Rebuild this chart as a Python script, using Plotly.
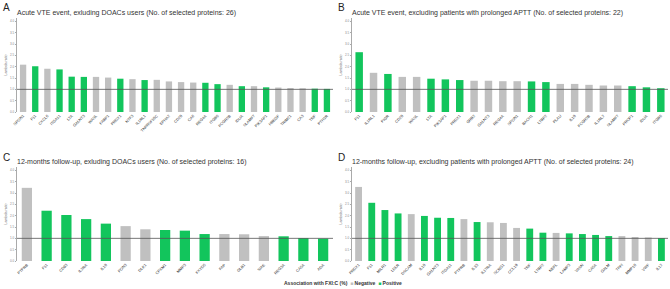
import plotly.graph_objects as go

# ---------------- data ----------------
a_proteins = ["SPON1", "F11", "CXCL6", "ITGA11", "LTA", "GALNT3", "WASL", "FABP1", "PRDX1", "NTF3",
              "IL1RL1", "TNFRSF10C", "EPHA2", "CD28", "CA6", "REG4A", "ITGB6", "FCGR2B", "IDUA", "SLAMF7",
              "PIK3AP1", "HBEGF", "TRIM21", "CA3", "TNF", "PTH1R"]
a_values = [2.09, 2.02, 1.91, 1.88, 1.56, 1.55, 1.55, 1.52, 1.47, 1.45,
            1.41, 1.42, 1.35, 1.32, 1.30, 1.29, 1.23, 1.20, 1.14, 1.14,
            1.09, 1.08, 1.06, 1.05, 1.03, 1.02]
a_assoc = ["Negative", "Positive", "Negative", "Positive", "Positive", "Positive", "Negative", "Negative", "Positive", "Negative",
           "Positive", "Negative", "Negative", "Negative", "Negative", "Positive", "Positive", "Negative", "Positive", "Negative",
           "Positive", "Negative", "Negative", "Negative", "Positive", "Positive"]

b_proteins = ["F11", "IL1RL1", "PIGR", "CD28", "WASL", "LTA", "PIK3AP1", "PRDX1", "GRB2", "GALNT3",
              "REG4A", "SPON1", "BACH1", "LTBP2", "PLAU", "IL18", "FCGR2B", "IL1RL2", "SLAMF7", "PROP1",
              "IDUA", "ITGB6"]
b_values = [2.64, 1.73, 1.68, 1.55, 1.55, 1.47, 1.44, 1.41, 1.38, 1.38,
            1.36, 1.36, 1.35, 1.32, 1.24, 1.24, 1.20, 1.17, 1.17, 1.14,
            1.09, 1.05]
b_assoc = ["Positive", "Negative", "Positive", "Negative", "Negative", "Positive", "Positive", "Positive", "Negative", "Negative",
           "Negative", "Negative", "Positive", "Positive", "Negative", "Negative", "Negative", "Negative", "Negative", "Positive",
           "Positive", "Positive"]

c_proteins = ["PTPRB", "F11", "CD93", "IL2RA", "IL18", "PON3", "DLK1", "CPXM1", "MMP3", "FXYD5",
              "FAP", "GLB1", "SIAE", "REG3A", "CA5A", "ADA"]
c_values = [3.23, 2.22, 2.03, 1.85, 1.65, 1.54, 1.40, 1.37, 1.34, 1.19,
            1.19, 1.18, 1.10, 1.09, 1.01, 0.99]
c_assoc = ["Negative", "Positive", "Positive", "Positive", "Positive", "Negative", "Negative", "Positive", "Positive", "Positive",
           "Negative", "Negative", "Negative", "Positive", "Positive", "Positive"]

d_proteins = ["PRDX1", "F11", "MILR1", "LDLR", "DSCAM", "IL18", "GALNT3", "ITGA11", "PTPRB", "IL33",
              "IL17RA", "SCRG1", "CCL19", "TNF", "LTBP2", "NEFL", "LAMP3", "VASN", "CA5A", "GALM",
              "TFPI", "MMP10", "VWF", "IL12"]
d_values = [3.27, 2.57, 2.25, 2.10, 2.07, 1.99, 1.91, 1.90, 1.85, 1.72,
            1.71, 1.68, 1.46, 1.43, 1.25, 1.24, 1.22, 1.19, 1.15, 1.10,
            1.10, 1.06, 1.04, 1.01]
d_assoc = ["Negative", "Positive", "Positive", "Positive", "Negative", "Positive", "Positive", "Positive", "Negative", "Positive",
           "Negative", "Negative", "Negative", "Positive", "Positive", "Negative", "Positive", "Positive", "Positive", "Positive",
           "Negative", "Negative", "Negative", "Positive"]

panel_letters = ["A", "B", "C", "D"]
panel_titles = [
    "Acute VTE event, exluding DOACs users (No. of selected proteins: 26)",
    "Acute VTE event, excluding patients with prolonged APTT (No. of selected proteins: 22)",
    "12-months follow-up, exluding DOACs users (No. of selected proteins: 16)",
    "12-months follow-up, excluding patients with prolonged APTT (No. of selected proteins: 24)",
]
y_ticks = [0.0, 0.5, 1.0, 1.5, 2.0, 2.5, 3.0, 3.5, 4.0]
y_title = "Lambda ratio"
legend_title = "Association with FXI:C (%)"
legend_names = ["Negative", "Positive"]

# ---------------- styling ----------------
W, H = 670, 289
colors = {"Negative": "#C0C0C0", "Positive": "#12C55C"}

def px(x):
    return x / W

def py(y):
    return 1 - y / H

panels = [
    (a_proteins, a_values, a_assoc),
    (b_proteins, b_values, b_assoc),
    (c_proteins, c_values, c_assoc),
    (d_proteins, d_values, d_assoc),
]
# plot-area pixel boxes: (x0, x1, y_top, y_bottom)
boxes = [
    (17, 333, 18, 112),
    (352, 668, 18, 112),
    (17, 333, 167, 261),
    (352, 668, 167, 261),
]
yrange = [0, 4.15]

fig = go.Figure()
layout = {}
annotations = []
shapes = []

for i, ((prots, vals, assoc), (x0, x1, yt, yb)) in enumerate(zip(panels, boxes)):
    n = i + 1
    xa = "x" if n == 1 else f"x{n}"
    ya = "y" if n == 1 else f"y{n}"
    fig.add_trace(go.Bar(
        x=prots, y=vals, xaxis=xa, yaxis=ya,
        marker=dict(color=[colors[a] for a in assoc], line=dict(width=0)),
        showlegend=False, hoverinfo="x+y",
    ))
    xk = "xaxis" if n == 1 else f"xaxis{n}"
    yk = "yaxis" if n == 1 else f"yaxis{n}"
    layout[xk] = dict(
        domain=[px(x0), px(x1)], anchor=ya, type="category", automargin=False,
        tickangle=-45, tickfont=dict(size=3.9, color="#333", family="Arial"),
        showline=False, showgrid=False, zeroline=False, ticks="", ticklen=0,
        range=[-0.5, len(prots) - 0.5],
    )
    layout[yk] = dict(
        domain=[py(yb), py(yt)], anchor=xa, range=yrange, automargin=False,
        tickvals=y_ticks, ticktext=[f"{t:.1f}" for t in y_ticks],
        tickfont=dict(size=3, color="#888", family="Arial"),
        showline=True, linecolor="#AAAAAA", linewidth=0.6,
        ticks="outside", ticklen=1.5, tickcolor="#AAAAAA", tickwidth=0.5,
        showgrid=False, zeroline=False,
        title=dict(text=y_title, font=dict(size=3.6, color="#666", family="Arial"), standoff=2),
    )
    # reference line at ratio 1
    shapes.append(dict(type="line", xref=f"{xa} domain", yref=ya, x0=0, x1=1, y0=1, y1=1,
                       line=dict(color="#555555", width=0.8)))
    annotations.append(dict(text=panel_letters[i], xref="paper", yref="paper",
                            x=px(x0 - 16), y=py(yt - 10), xanchor="left", yanchor="middle",
                            showarrow=False, font=dict(size=10, color="#222", family="Arial")))
    annotations.append(dict(text=panel_titles[i], xref="paper", yref="paper",
                            x=px(x0 - 2), y=py(yt - 5), xanchor="left", yanchor="middle",
                            showarrow=False, font=dict(size=7, color="#333", family="Arial")))

# compact legend as text
legend_text = "<b>" + legend_title + "</b>  " + "  ".join(
    f"<span style='color:{colors[nm]}'>■</span> <b>{nm}</b>" for nm in legend_names)
annotations.append(dict(text=legend_text, xref="paper", yref="paper", x=px(343), y=py(283),
                        xanchor="center", yanchor="middle", showarrow=False,
                        font=dict(size=5, color="#333", family="Arial")))

fig.update_layout(
    width=W, height=H,
    margin=dict(l=0, r=0, t=0, b=0),
    paper_bgcolor="white", plot_bgcolor="white",
    bargap=0.48, showlegend=False,
    annotations=annotations, shapes=shapes,
    **layout,
)

fig.write_html("out.html", config={"displayModeBar": False},
               post_script="document.body.style.margin='0';")
